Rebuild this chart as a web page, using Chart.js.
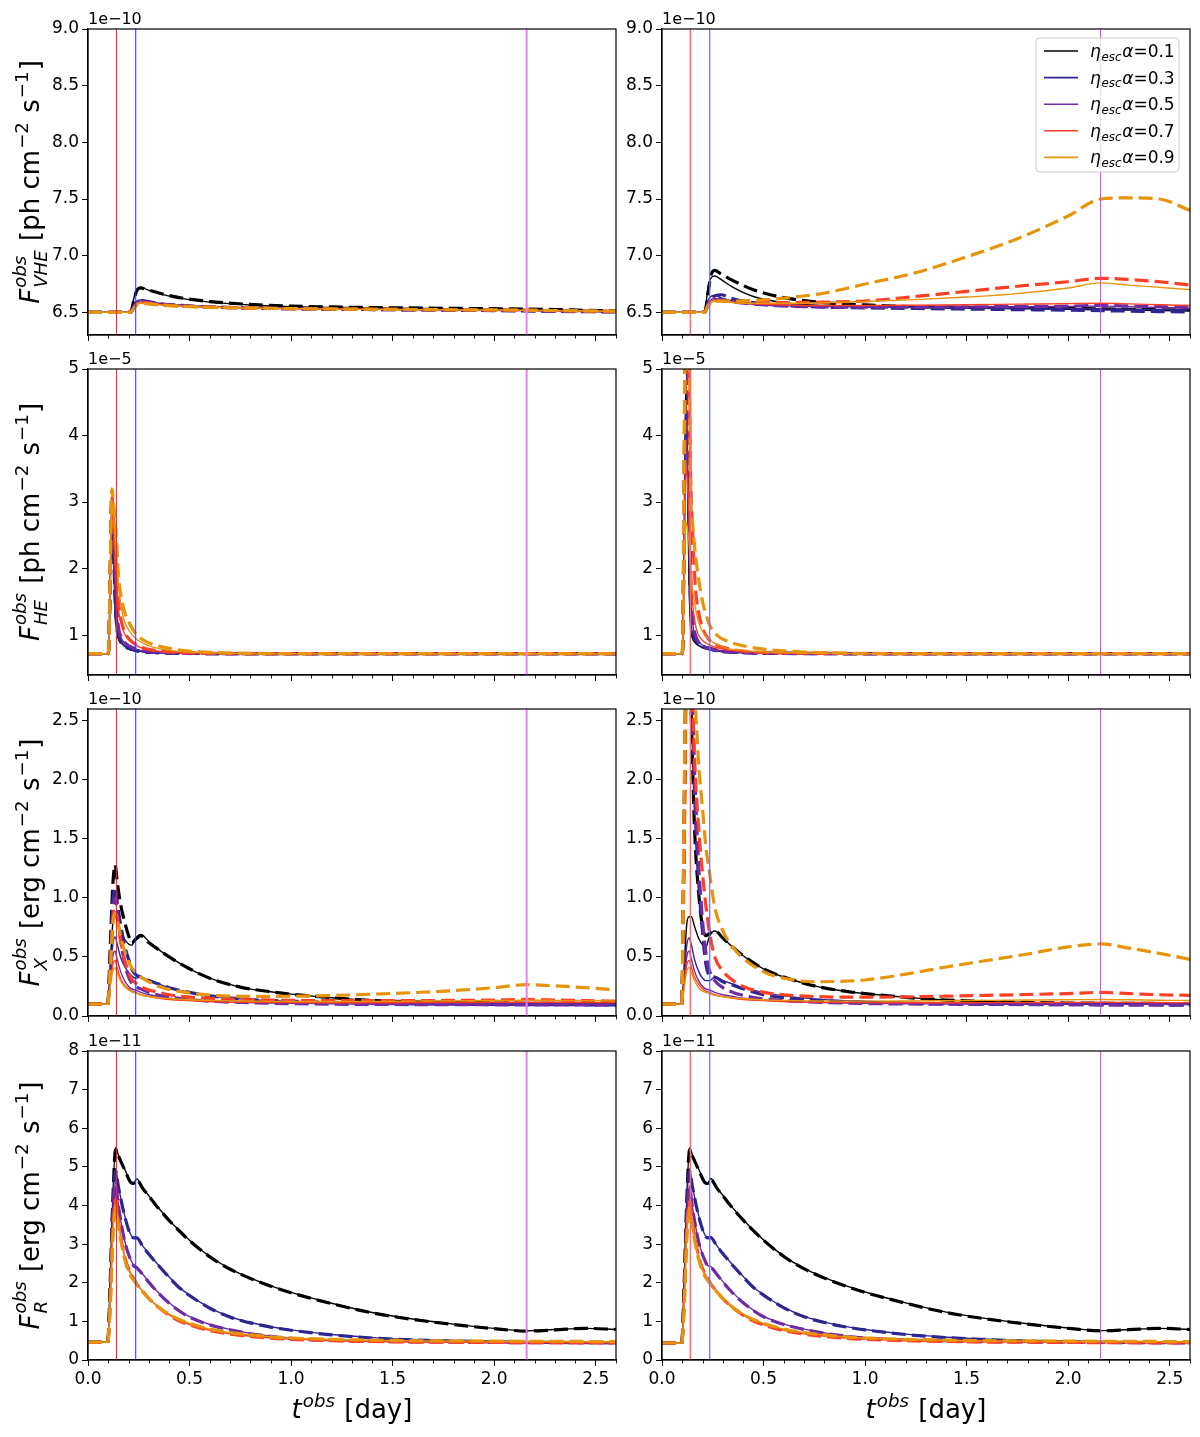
<!DOCTYPE html>
<html>
<head>
<meta charset="utf-8">
<script src="https://cdn.jsdelivr.net/npm/chart.js@4.4.1/dist/chart.umd.min.js"></script>
<style>
  html, body { margin: 0; padding: 0; background: #fff; }
  #fig { position: relative; width: 1200px; height: 1437px; overflow: hidden; background: #fff; }
  .cell { position: absolute; }
</style>
</head>
<body>
<div id="fig"></div>
<script>
// ---------- values ----------
const ALPHA_LABELS = ['0.1', '0.3', '0.5', '0.7', '0.9'];
const SERIES_COLORS = ['#000000', '#2d2690', '#6f2ba4', '#ff4026', '#e6950a'];
const VLINE_X = [0.14, 0.235, 2.16];

const X_TICKS = [0, 0.5, 1.0, 1.5, 2.0, 2.5];
const X_LABELS = ['0.0', '0.5', '1.0', '1.5', '2.0', '2.5'];

const Y_TICKS_VHE = [6.5, 7.0, 7.5, 8.0, 8.5, 9.0];
const Y_LABELS_VHE = ['6.5', '7.0', '7.5', '8.0', '8.5', '9.0'];
const Y_TICKS_HE = [1, 2, 3, 4, 5];
const Y_LABELS_HE = ['1', '2', '3', '4', '5'];
const Y_TICKS_X = [0, 0.5, 1.0, 1.5, 2.0, 2.5];
const Y_LABELS_X = ['0.0', '0.5', '1.0', '1.5', '2.0', '2.5'];
const Y_TICKS_R = [0, 1, 2, 3, 4, 5, 6, 7, 8];
const Y_LABELS_R = ['0', '1', '2', '3', '4', '5', '6', '7', '8'];

// time grids [day]
const T_VHE = [0, 0.21, 0.225, 0.24, 0.26, 0.29, 0.35, 0.45, 0.6, 0.8, 1.0, 1.25, 1.5, 1.75, 2.0, 2.16, 2.3, 2.45, 2.6];
const T_HE = [0, 0.1, 0.108, 0.117, 0.125, 0.133, 0.141, 0.15, 0.165, 0.18, 0.2, 0.235, 0.27, 0.32, 0.4, 0.5, 0.7, 1.0, 1.5, 2.0, 2.6];
const T_X = [0, 0.097, 0.11, 0.122, 0.133, 0.145, 0.16, 0.18, 0.2, 0.215, 0.235, 0.26, 0.3, 0.35, 0.4, 0.5, 0.6, 0.75, 0.9, 1.0, 1.2, 1.4, 1.6, 1.8, 2.0, 2.16, 2.3, 2.45, 2.6];
const T_R = [0, 0.097, 0.11, 0.122, 0.136, 0.15, 0.18, 0.21, 0.225, 0.24, 0.27, 0.3, 0.34, 0.4, 0.45, 0.5, 0.6, 0.7, 0.8, 0.9, 1.0, 1.2, 1.4, 1.6, 1.8, 2.0, 2.16, 2.3, 2.45, 2.6];

// VHE flux, 1e-10 ph cm^-2 s^-1
const VHE_L_SOLID = [
  [6.5, 6.5, 6.62, 6.7, 6.72, 6.7, 6.665, 6.625, 6.59, 6.565, 6.55, 6.542, 6.536, 6.532, 6.528, 6.525, 6.52, 6.515, 6.508],
  [6.5, 6.5, 6.56, 6.6, 6.61, 6.6, 6.58, 6.565, 6.55, 6.54, 6.535, 6.53, 6.526, 6.522, 6.518, 6.515, 6.512, 6.508, 6.505],
  [6.5, 6.5, 6.55, 6.59, 6.6, 6.59, 6.575, 6.56, 6.548, 6.54, 6.534, 6.529, 6.525, 6.521, 6.518, 6.515, 6.512, 6.509, 6.506],
  [6.5, 6.5, 6.54, 6.58, 6.59, 6.585, 6.57, 6.557, 6.546, 6.538, 6.533, 6.528, 6.525, 6.522, 6.519, 6.517, 6.514, 6.511, 6.508],
  [6.5, 6.5, 6.53, 6.57, 6.58, 6.577, 6.566, 6.554, 6.545, 6.537, 6.532, 6.528, 6.525, 6.522, 6.52, 6.518, 6.515, 6.512, 6.509]
];
const VHE_L_DASH = [
  [6.5, 6.5, 6.6, 6.69, 6.715, 6.7, 6.67, 6.63, 6.595, 6.57, 6.555, 6.546, 6.54, 6.536, 6.532, 6.529, 6.525, 6.518, 6.512],
  [6.5, 6.5, 6.55, 6.595, 6.605, 6.597, 6.578, 6.562, 6.548, 6.538, 6.532, 6.527, 6.523, 6.519, 6.515, 6.512, 6.509, 6.506, 6.503],
  [6.5, 6.5, 6.545, 6.585, 6.597, 6.59, 6.574, 6.559, 6.547, 6.538, 6.532, 6.527, 6.523, 6.52, 6.517, 6.514, 6.511, 6.508, 6.505],
  [6.5, 6.5, 6.535, 6.575, 6.587, 6.583, 6.569, 6.556, 6.546, 6.538, 6.533, 6.529, 6.526, 6.523, 6.52, 6.518, 6.515, 6.512, 6.509],
  [6.5, 6.5, 6.53, 6.565, 6.578, 6.575, 6.565, 6.554, 6.545, 6.538, 6.533, 6.529, 6.526, 6.523, 6.521, 6.519, 6.516, 6.513, 6.51]
];
const VHE_R_SOLID = [
  [6.5, 6.5, 6.7, 6.8, 6.82, 6.79, 6.72, 6.64, 6.585, 6.56, 6.55, 6.545, 6.54, 6.537, 6.533, 6.53, 6.527, 6.523, 6.52],
  [6.5, 6.5, 6.6, 6.64, 6.65, 6.63, 6.6, 6.578, 6.563, 6.554, 6.549, 6.544, 6.54, 6.536, 6.532, 6.53, 6.527, 6.524, 6.521],
  [6.5, 6.5, 6.58, 6.61, 6.62, 6.61, 6.59, 6.571, 6.559, 6.551, 6.547, 6.546, 6.547, 6.549, 6.552, 6.555, 6.55, 6.543, 6.537],
  [6.5, 6.5, 6.57, 6.6, 6.61, 6.605, 6.59, 6.575, 6.565, 6.56, 6.56, 6.563, 6.567, 6.572, 6.577, 6.58, 6.575, 6.567, 6.56],
  [6.5, 6.5, 6.56, 6.585, 6.595, 6.595, 6.585, 6.58, 6.58, 6.585, 6.595, 6.612, 6.635, 6.665, 6.715, 6.76, 6.74, 6.72, 6.7]
];
const VHE_R_DASH = [
  [6.5, 6.5, 6.65, 6.82, 6.87, 6.84, 6.78, 6.7, 6.63, 6.585, 6.565, 6.55, 6.545, 6.54, 6.535, 6.53, 6.527, 6.523, 6.52],
  [6.5, 6.5, 6.57, 6.62, 6.645, 6.655, 6.62, 6.585, 6.56, 6.546, 6.54, 6.534, 6.529, 6.524, 6.519, 6.515, 6.511, 6.507, 6.503],
  [6.5, 6.5, 6.56, 6.6, 6.615, 6.612, 6.592, 6.572, 6.556, 6.548, 6.545, 6.545, 6.548, 6.551, 6.555, 6.56, 6.556, 6.55, 6.545],
  [6.5, 6.5, 6.55, 6.59, 6.6, 6.6, 6.592, 6.586, 6.585, 6.59, 6.6, 6.64, 6.685, 6.73, 6.77, 6.8, 6.79, 6.77, 6.74],
  [6.5, 6.5, 6.55, 6.585, 6.6, 6.6, 6.6, 6.605, 6.625, 6.67, 6.75, 6.85, 6.99, 7.15, 7.35, 7.5, 7.51, 7.5, 7.4]
];

// HE flux, 1e-5 ph cm^-2 s^-1
const HE_L_SOLID = [
  [0.72, 0.72, 1.5, 2.9, 2.2, 1.4, 1.05, 0.95, 0.88, 0.84, 0.8, 0.77, 0.75, 0.74, 0.73, 0.725, 0.72, 0.72, 0.72, 0.72, 0.72],
  [0.72, 0.72, 1.5, 2.95, 2.4, 1.6, 1.15, 0.98, 0.88, 0.83, 0.8, 0.77, 0.75, 0.74, 0.73, 0.725, 0.72, 0.72, 0.72, 0.72, 0.72],
  [0.72, 0.72, 1.5, 3.0, 2.6, 1.9, 1.4, 1.1, 0.95, 0.88, 0.83, 0.79, 0.76, 0.745, 0.735, 0.727, 0.722, 0.72, 0.72, 0.72, 0.72],
  [0.72, 0.72, 1.5, 3.0, 2.7, 2.3, 1.8, 1.4, 1.15, 1.02, 0.93, 0.85, 0.8, 0.77, 0.745, 0.732, 0.724, 0.72, 0.72, 0.72, 0.72],
  [0.72, 0.72, 1.4, 2.9, 2.8, 2.5, 2.1, 1.75, 1.4, 1.2, 1.08, 0.95, 0.88, 0.82, 0.77, 0.745, 0.728, 0.722, 0.72, 0.72, 0.72]
];
const HE_L_DASH = [
  [0.72, 0.72, 1.6, 3.0, 2.4, 1.6, 1.15, 0.98, 0.88, 0.84, 0.8, 0.77, 0.75, 0.74, 0.73, 0.725, 0.72, 0.72, 0.72, 0.72, 0.72],
  [0.72, 0.72, 1.6, 3.0, 2.5, 1.7, 1.2, 1.0, 0.89, 0.84, 0.8, 0.77, 0.75, 0.74, 0.73, 0.725, 0.72, 0.72, 0.72, 0.72, 0.72],
  [0.72, 0.72, 1.6, 3.05, 2.7, 2.0, 1.45, 1.12, 0.96, 0.89, 0.84, 0.795, 0.765, 0.745, 0.735, 0.727, 0.722, 0.72, 0.72, 0.72, 0.72],
  [0.72, 0.72, 1.6, 3.1, 2.8, 2.4, 1.9, 1.5, 1.2, 1.05, 0.95, 0.86, 0.81, 0.775, 0.748, 0.733, 0.724, 0.72, 0.72, 0.72, 0.72],
  [0.72, 0.72, 1.7, 3.2, 3.0, 2.7, 2.4, 1.9, 1.55, 1.35, 1.2, 1.02, 0.93, 0.86, 0.8, 0.76, 0.73, 0.722, 0.72, 0.72, 0.72]
];
const HE_R_SOLID = [
  [0.72, 0.72, 2.0, 4.8, 3.5, 1.8, 1.1, 0.95, 0.88, 0.84, 0.81, 0.78, 0.76, 0.745, 0.735, 0.727, 0.722, 0.72, 0.72, 0.72, 0.72],
  [0.72, 0.72, 1.9, 4.5, 3.8, 2.2, 1.3, 1.02, 0.9, 0.85, 0.82, 0.785, 0.765, 0.748, 0.736, 0.728, 0.722, 0.72, 0.72, 0.72, 0.72],
  [0.72, 0.72, 1.8, 4.0, 3.6, 2.6, 1.6, 1.2, 0.98, 0.9, 0.85, 0.8, 0.775, 0.755, 0.74, 0.73, 0.723, 0.72, 0.72, 0.72, 0.72],
  [0.72, 0.72, 1.7, 3.5, 3.3, 2.8, 2.0, 1.5, 1.15, 1.0, 0.92, 0.85, 0.81, 0.78, 0.755, 0.738, 0.726, 0.721, 0.72, 0.72, 0.72],
  [0.72, 0.72, 1.5, 2.7, 2.6, 2.4, 2.0, 1.7, 1.4, 1.2, 1.05, 0.93, 0.86, 0.8, 0.77, 0.745, 0.73, 0.722, 0.72, 0.72, 0.72]
];
const HE_R_DASH = [
  [0.72, 0.72, 2.5, 6.0, 5.0, 3.0, 1.5, 1.1, 0.93, 0.87, 0.83, 0.8, 0.77, 0.75, 0.74, 0.73, 0.725, 0.722, 0.72, 0.72, 0.72],
  [0.72, 0.72, 2.5, 6.0, 5.2, 3.3, 1.7, 1.2, 0.96, 0.88, 0.83, 0.79, 0.765, 0.748, 0.736, 0.728, 0.722, 0.72, 0.72, 0.72, 0.72],
  [0.72, 0.72, 2.4, 6.0, 5.5, 3.8, 2.0, 1.3, 1.0, 0.9, 0.84, 0.795, 0.77, 0.75, 0.738, 0.73, 0.723, 0.72, 0.72, 0.72, 0.72],
  [0.72, 0.72, 2.0, 5.5, 6.0, 5.0, 3.4, 2.6, 1.7, 1.35, 1.1, 0.92, 0.85, 0.8, 0.76, 0.74, 0.728, 0.722, 0.72, 0.72, 0.72],
  [0.72, 0.72, 3.5, 6.5, 7.0, 6.0, 3.2, 2.7, 2.2, 1.85, 1.5, 1.15, 1.0, 0.91, 0.84, 0.79, 0.745, 0.725, 0.72, 0.72, 0.72]
];

// X-ray flux, 1e-10 erg cm^-2 s^-1
const X_L_SOLID = [
  [0.1, 0.1, 0.45, 0.78, 0.85, 0.8, 0.72, 0.65, 0.61, 0.6, 0.66, 0.69, 0.63, 0.56, 0.5, 0.4, 0.32, 0.245, 0.205, 0.185, 0.155, 0.132, 0.12, 0.113, 0.11, 0.108, 0.107, 0.106, 0.105],
  [0.1, 0.1, 0.35, 0.6, 0.67, 0.6, 0.5, 0.42, 0.37, 0.34, 0.32, 0.33, 0.3, 0.27, 0.24, 0.2, 0.17, 0.145, 0.13, 0.125, 0.115, 0.11, 0.105, 0.102, 0.1, 0.1, 0.1, 0.1, 0.1],
  [0.1, 0.1, 0.3, 0.5, 0.55, 0.47, 0.38, 0.3, 0.25, 0.23, 0.22, 0.2, 0.18, 0.165, 0.15, 0.135, 0.125, 0.115, 0.11, 0.107, 0.104, 0.102, 0.1, 0.1, 0.1, 0.1, 0.1, 0.1, 0.1],
  [0.1, 0.1, 0.27, 0.43, 0.47, 0.4, 0.32, 0.26, 0.23, 0.215, 0.2, 0.18, 0.165, 0.15, 0.14, 0.13, 0.122, 0.117, 0.114, 0.113, 0.112, 0.112, 0.113, 0.114, 0.115, 0.116, 0.115, 0.114, 0.113],
  [0.1, 0.1, 0.25, 0.38, 0.41, 0.36, 0.3, 0.25, 0.22, 0.205, 0.195, 0.18, 0.165, 0.155, 0.148, 0.138, 0.132, 0.127, 0.124, 0.123, 0.123, 0.124, 0.126, 0.128, 0.131, 0.134, 0.132, 0.13, 0.128]
];
const X_L_DASH = [
  [0.1, 0.1, 0.6, 1.1, 1.28, 1.12, 0.95, 0.8, 0.68, 0.62, 0.65, 0.68, 0.62, 0.56, 0.5, 0.4, 0.32, 0.245, 0.205, 0.185, 0.155, 0.132, 0.12, 0.113, 0.11, 0.108, 0.107, 0.106, 0.105],
  [0.1, 0.1, 0.5, 0.95, 1.09, 0.95, 0.78, 0.6, 0.48, 0.4, 0.35, 0.33, 0.3, 0.27, 0.24, 0.2, 0.17, 0.145, 0.13, 0.125, 0.115, 0.108, 0.103, 0.1, 0.098, 0.097, 0.096, 0.095, 0.094],
  [0.1, 0.1, 0.45, 0.88, 1.0, 0.85, 0.65, 0.45, 0.33, 0.28, 0.25, 0.23, 0.2, 0.175, 0.16, 0.14, 0.125, 0.115, 0.108, 0.105, 0.1, 0.098, 0.097, 0.096, 0.095, 0.095, 0.094, 0.093, 0.092],
  [0.1, 0.1, 0.4, 0.8, 0.9, 0.82, 0.65, 0.48, 0.37, 0.31, 0.28, 0.25, 0.22, 0.2, 0.18, 0.16, 0.15, 0.14, 0.135, 0.132, 0.13, 0.13, 0.13, 0.132, 0.135, 0.14, 0.135, 0.13, 0.125],
  [0.1, 0.1, 0.4, 0.78, 0.87, 0.8, 0.68, 0.55, 0.46, 0.41, 0.37, 0.33, 0.29, 0.25, 0.225, 0.195, 0.178, 0.167, 0.166, 0.168, 0.173, 0.185, 0.198, 0.215, 0.24, 0.265, 0.255, 0.24, 0.222]
];
const X_R_SOLID = [
  [0.1, 0.1, 0.45, 0.78, 0.84, 0.84, 0.76, 0.66, 0.6, 0.58, 0.68, 0.72, 0.66, 0.58, 0.51, 0.4, 0.33, 0.255, 0.21, 0.19, 0.158, 0.135, 0.122, 0.115, 0.11, 0.108, 0.107, 0.106, 0.105],
  [0.1, 0.1, 0.35, 0.6, 0.66, 0.6, 0.48, 0.38, 0.32, 0.3, 0.3, 0.33, 0.3, 0.27, 0.24, 0.2, 0.17, 0.145, 0.13, 0.125, 0.115, 0.11, 0.105, 0.102, 0.1, 0.1, 0.1, 0.1, 0.1],
  [0.1, 0.1, 0.3, 0.5, 0.55, 0.48, 0.38, 0.3, 0.25, 0.23, 0.22, 0.2, 0.18, 0.165, 0.15, 0.135, 0.125, 0.115, 0.11, 0.107, 0.104, 0.102, 0.1, 0.1, 0.1, 0.1, 0.1, 0.1, 0.1],
  [0.1, 0.1, 0.27, 0.43, 0.47, 0.41, 0.33, 0.27, 0.23, 0.21, 0.2, 0.18, 0.165, 0.15, 0.14, 0.13, 0.122, 0.117, 0.114, 0.113, 0.112, 0.112, 0.113, 0.114, 0.115, 0.116, 0.115, 0.114, 0.113],
  [0.1, 0.1, 0.25, 0.38, 0.41, 0.37, 0.3, 0.24, 0.21, 0.2, 0.19, 0.175, 0.165, 0.155, 0.148, 0.138, 0.132, 0.128, 0.126, 0.126, 0.127, 0.129, 0.132, 0.135, 0.138, 0.14, 0.137, 0.134, 0.131]
];
const X_R_DASH = [
  [0.1, 0.1, 1.8, 3.2, 3.2, 2.5, 1.6, 1.05, 0.75, 0.68, 0.7, 0.72, 0.66, 0.58, 0.51, 0.4, 0.33, 0.255, 0.21, 0.19, 0.158, 0.135, 0.122, 0.115, 0.11, 0.108, 0.107, 0.106, 0.105],
  [0.1, 0.1, 1.8, 3.3, 3.5, 2.8, 1.9, 1.15, 0.7, 0.45, 0.34, 0.33, 0.29, 0.26, 0.23, 0.18, 0.155, 0.135, 0.12, 0.115, 0.108, 0.103, 0.1, 0.098, 0.096, 0.095, 0.094, 0.093, 0.092],
  [0.1, 0.1, 1.7, 3.3, 3.5, 3.0, 2.1, 1.3, 0.8, 0.55, 0.38, 0.3, 0.24, 0.2, 0.175, 0.145, 0.13, 0.118, 0.11, 0.106, 0.102, 0.1, 0.098, 0.097, 0.096, 0.095, 0.094, 0.094, 0.093],
  [0.1, 0.1, 1.5, 3.2, 3.6, 3.0, 2.2, 1.6, 1.2, 0.95, 0.7, 0.5, 0.38, 0.3, 0.25, 0.2, 0.18, 0.165, 0.16, 0.16, 0.162, 0.168, 0.175, 0.182, 0.19, 0.2, 0.19, 0.18, 0.175],
  [0.1, 0.1, 2.0, 3.5, 3.8, 3.4, 2.8, 2.15, 1.75, 1.45, 1.2, 0.92, 0.72, 0.58, 0.49, 0.375, 0.32, 0.29, 0.295, 0.305, 0.355, 0.415, 0.47, 0.525, 0.585, 0.61, 0.575, 0.53, 0.48]
];

// radio flux, 1e-11 erg cm^-2 s^-1
const R_L_SOLID = [
  [0.46, 0.46, 2.2, 4.2, 5.5, 5.3, 4.95, 4.62, 4.58, 4.69, 4.45, 4.25, 3.98, 3.62, 3.35, 3.1, 2.68, 2.36, 2.12, 1.92, 1.75, 1.47, 1.23, 1.06, 0.93, 0.82, 0.755, 0.79, 0.82, 0.79],
  [0.46, 0.46, 2.0, 4.0, 4.95, 4.5, 3.75, 3.25, 3.17, 3.17, 2.95, 2.75, 2.5, 2.15, 1.88, 1.68, 1.35, 1.12, 0.97, 0.86, 0.78, 0.66, 0.58, 0.53, 0.5, 0.48, 0.47, 0.46, 0.455, 0.45],
  [0.46, 0.46, 1.8, 3.7, 4.6, 4.0, 3.1, 2.6, 2.45, 2.4, 2.22, 2.02, 1.78, 1.48, 1.28, 1.12, 0.92, 0.79, 0.69, 0.62, 0.57, 0.52, 0.49, 0.475, 0.465, 0.46, 0.455, 0.455, 0.45, 0.45],
  [0.46, 0.46, 1.6, 3.4, 4.2, 3.6, 2.7, 2.25, 2.12, 1.98, 1.78, 1.6, 1.4, 1.17, 1.02, 0.92, 0.77, 0.68, 0.62, 0.57, 0.54, 0.5, 0.48, 0.465, 0.46, 0.455, 0.45, 0.45, 0.445, 0.445],
  [0.46, 0.46, 1.5, 3.2, 4.0, 3.5, 2.65, 2.2, 2.08, 1.96, 1.77, 1.6, 1.41, 1.19, 1.05, 0.95, 0.8, 0.71, 0.65, 0.6, 0.57, 0.53, 0.51, 0.495, 0.49, 0.485, 0.48, 0.48, 0.475, 0.47]
];
const R_L_DASH = [
  [0.46, 0.46, 2.1, 4.1, 5.45, 5.28, 4.93, 4.6, 4.57, 4.67, 4.44, 4.24, 3.97, 3.61, 3.34, 3.09, 2.67, 2.35, 2.11, 1.91, 1.74, 1.46, 1.22, 1.05, 0.92, 0.81, 0.75, 0.78, 0.82, 0.79],
  [0.46, 0.46, 1.9, 3.9, 4.9, 4.48, 3.74, 3.24, 3.16, 3.16, 2.94, 2.74, 2.49, 2.14, 1.87, 1.67, 1.34, 1.11, 0.96, 0.85, 0.77, 0.65, 0.57, 0.52, 0.49, 0.47, 0.46, 0.455, 0.45, 0.445],
  [0.46, 0.46, 1.75, 3.6, 4.55, 3.98, 3.09, 2.59, 2.44, 2.39, 2.21, 2.01, 1.77, 1.47, 1.27, 1.11, 0.91, 0.78, 0.68, 0.61, 0.56, 0.51, 0.485, 0.47, 0.46, 0.455, 0.45, 0.45, 0.448, 0.448],
  [0.46, 0.46, 1.55, 3.3, 4.15, 3.58, 2.69, 2.24, 2.11, 1.97, 1.77, 1.59, 1.39, 1.16, 1.01, 0.91, 0.76, 0.67, 0.61, 0.565, 0.535, 0.5, 0.48, 0.465, 0.46, 0.455, 0.45, 0.45, 0.445, 0.445],
  [0.46, 0.46, 1.45, 3.1, 3.9, 3.45, 2.62, 2.18, 2.06, 1.95, 1.76, 1.59, 1.4, 1.18, 1.05, 0.95, 0.8, 0.71, 0.65, 0.6, 0.57, 0.535, 0.515, 0.5, 0.495, 0.49, 0.485, 0.485, 0.48, 0.475]
];
const R_R_SOLID = [
  [0.44, 0.44, 2.2, 4.2, 5.5, 5.3, 4.95, 4.62, 4.58, 4.7, 4.46, 4.26, 3.99, 3.63, 3.36, 3.11, 2.69, 2.37, 2.13, 1.93, 1.76, 1.48, 1.24, 1.07, 0.94, 0.83, 0.76, 0.79, 0.82, 0.79],
  [0.44, 0.44, 2.0, 4.0, 4.95, 4.5, 3.75, 3.25, 3.17, 3.18, 2.96, 2.76, 2.51, 2.16, 1.89, 1.69, 1.36, 1.13, 0.98, 0.87, 0.79, 0.67, 0.59, 0.54, 0.5, 0.48, 0.47, 0.46, 0.455, 0.45],
  [0.44, 0.44, 1.8, 3.7, 4.5, 3.95, 3.08, 2.6, 2.45, 2.42, 2.23, 2.03, 1.79, 1.49, 1.29, 1.13, 0.93, 0.8, 0.7, 0.63, 0.58, 0.53, 0.5, 0.48, 0.47, 0.465, 0.46, 0.455, 0.45, 0.45],
  [0.44, 0.44, 1.6, 3.4, 4.15, 3.58, 2.7, 2.25, 2.12, 1.98, 1.78, 1.6, 1.4, 1.17, 1.02, 0.92, 0.77, 0.68, 0.62, 0.57, 0.54, 0.5, 0.48, 0.465, 0.46, 0.455, 0.45, 0.45, 0.445, 0.445],
  [0.44, 0.44, 1.5, 3.2, 3.95, 3.48, 2.64, 2.2, 2.08, 1.96, 1.77, 1.6, 1.41, 1.19, 1.05, 0.95, 0.8, 0.71, 0.65, 0.6, 0.57, 0.53, 0.51, 0.495, 0.49, 0.485, 0.48, 0.48, 0.475, 0.47]
];
const R_R_DASH = [
  [0.44, 0.44, 2.1, 4.1, 5.45, 5.28, 4.93, 4.6, 4.57, 4.68, 4.45, 4.25, 3.98, 3.62, 3.35, 3.1, 2.68, 2.36, 2.12, 1.92, 1.75, 1.47, 1.23, 1.06, 0.93, 0.82, 0.755, 0.785, 0.82, 0.79],
  [0.44, 0.44, 1.9, 3.9, 4.9, 4.48, 3.74, 3.24, 3.16, 3.17, 2.95, 2.75, 2.5, 2.15, 1.88, 1.68, 1.35, 1.12, 0.97, 0.86, 0.78, 0.66, 0.58, 0.53, 0.49, 0.47, 0.46, 0.455, 0.45, 0.445],
  [0.44, 0.44, 1.75, 3.6, 4.45, 3.93, 3.07, 2.59, 2.44, 2.41, 2.22, 2.02, 1.78, 1.48, 1.28, 1.12, 0.92, 0.79, 0.69, 0.62, 0.57, 0.52, 0.49, 0.475, 0.465, 0.46, 0.455, 0.45, 0.448, 0.448],
  [0.44, 0.44, 1.55, 3.3, 4.1, 3.56, 2.69, 2.24, 2.11, 1.97, 1.77, 1.59, 1.39, 1.16, 1.01, 0.91, 0.76, 0.67, 0.61, 0.565, 0.535, 0.5, 0.48, 0.465, 0.46, 0.455, 0.45, 0.45, 0.445, 0.445],
  [0.44, 0.44, 1.45, 3.1, 3.9, 3.43, 2.62, 2.18, 2.06, 1.95, 1.76, 1.59, 1.4, 1.18, 1.05, 0.95, 0.8, 0.71, 0.65, 0.6, 0.57, 0.535, 0.515, 0.5, 0.495, 0.49, 0.485, 0.485, 0.48, 0.475]
];

// ---------- layout and style ----------
const FONT = '"DejaVu Sans", "Liberation Sans", sans-serif';
const ROWS = [
  { top: 29, bottom: 335, min: 6.3, max: 9.0, ticks: Y_TICKS_VHE, labels: Y_LABELS_VHE, exp: '1e\u221210', band: 'VHE', unit: 'ph' },
  { top: 369, bottom: 675, min: 0.4, max: 5.0, ticks: Y_TICKS_HE, labels: Y_LABELS_HE, exp: '1e\u22125', band: 'HE', unit: 'ph' },
  { top: 709, bottom: 1016, min: 0.0, max: 2.6, ticks: Y_TICKS_X, labels: Y_LABELS_X, exp: '1e\u221210', band: 'X', unit: 'erg' },
  { top: 1051, bottom: 1360, min: 0.0, max: 8.0, ticks: Y_TICKS_R, labels: Y_LABELS_R, exp: '1e\u221211', band: 'R', unit: 'erg' }
];
const COLS = [
  { x0: 0, x1: 640, left: 88, right: 616, vcol: ['#ff1a1a', '#2b2bff', '#f07cf0'], vw: [1, 1, 2] },
  { x0: 600, x1: 1200, left: 662, right: 1190, vcol: ['#ff6a6a', '#6a6aff', '#d735e3'], vw: [1.5, 1.2, 1] }
];
const PANELS = [
  { row: 0, col: 0, t: T_VHE, solid: VHE_L_SOLID, dash: VHE_L_DASH },
  { row: 0, col: 1, t: T_VHE, solid: VHE_R_SOLID, dash: VHE_R_DASH },
  { row: 1, col: 0, t: T_HE, solid: HE_L_SOLID, dash: HE_L_DASH },
  { row: 1, col: 1, t: T_HE, solid: HE_R_SOLID, dash: HE_R_DASH },
  { row: 2, col: 0, t: T_X, solid: X_L_SOLID, dash: X_L_DASH },
  { row: 2, col: 1, t: T_X, solid: X_R_SOLID, dash: X_R_DASH },
  { row: 3, col: 0, t: T_R, solid: R_L_SOLID, dash: R_L_DASH },
  { row: 3, col: 1, t: T_R, solid: R_R_SOLID, dash: R_R_DASH }
];
const YW = 50;

function font(size, italic) {
  return (italic ? 'italic ' : '') + size + 'px ' + FONT;
}

// tiny mathtext: runs are {t, it} or {sup, sub, it}
function drawMath(ctx, runs, x, y, size, align) {
  const small = size * 0.7;
  const widths = runs.map(r => {
    if (r.t !== undefined) { ctx.font = font(size, r.it); return ctx.measureText(r.t).width; }
    ctx.font = font(small, r.it);
    const a = r.sup ? ctx.measureText(r.sup).width : 0;
    const b = r.sub ? ctx.measureText(r.sub).width : 0;
    return Math.max(a, b) + size * 0.08;
  });
  const total = widths.reduce((s, w) => s + w, 0);
  let cx = align === 'center' ? x - total / 2 : x;
  ctx.textAlign = 'left';
  ctx.textBaseline = 'alphabetic';
  runs.forEach((r, i) => {
    if (r.t !== undefined) {
      ctx.font = font(size, r.it);
      ctx.fillText(r.t, cx, y);
    } else {
      ctx.font = font(small, r.it);
      const both = r.sup && r.sub;
      if (r.sup) ctx.fillText(r.sup, cx + size * 0.04, y - size * (both ? 0.5 : 0.42));
      if (r.sub) ctx.fillText(r.sub, cx + size * 0.04, y + size * (both ? 0.3 : 0.22));
    }
    cx += widths[i];
  });
  return total;
}

const decor = {
  id: 'decor',
  afterDraw(chart, args, o) {
    const { ctx, chartArea: a } = chart;
    const xs = chart.scales.x;
    const row = ROWS[o.row];
    ctx.save();
    ctx.fillStyle = '#000';
    ctx.strokeStyle = '#000';

    // minor x ticks every 0.1 day
    ctx.lineWidth = 0.9;
    for (let k = 1; k <= 26; k++) {
      if (k % 5 === 0) continue;
      const px = Math.round(xs.getPixelForValue(k / 10)) + 0.5;
      ctx.beginPath();
      ctx.moveTo(px, a.bottom);
      ctx.lineTo(px, a.bottom + 3.5);
      ctx.stroke();
    }

    // axes frame
    ctx.lineWidth = 1.2;
    ctx.strokeRect(a.left, a.top, a.right - a.left, a.bottom - a.top);

    // offset text
    ctx.font = font(16);
    ctx.textAlign = 'left';
    ctx.textBaseline = 'alphabetic';
    ctx.fillText(row.exp, a.left, a.top - 5);

    // y title (left column only)
    if (o.col === 0) {
      ctx.save();
      ctx.translate(39, (a.top + a.bottom) / 2);
      ctx.rotate(-Math.PI / 2);
      drawMath(ctx, [
        { t: 'F', it: true },
        { sup: 'obs', sub: row.band, it: true },
        { t: ' [' + row.unit + ' cm' },
        { sup: '\u22122' },
        { t: ' s' },
        { sup: '\u22121' },
        { t: ']' }
      ], 0, 0, 26, 'center');
      ctx.restore();
    }

    // x title (bottom row only)
    if (o.row === 3) {
      drawMath(ctx, [
        { t: 't', it: true },
        { sup: 'obs', it: true },
        { t: ' [day]' }
      ], (a.left + a.right) / 2, a.bottom + 58, 26, 'center');
    }

    // legend (top-right panel)
    if (o.legend) {
      const w = 143, h = 134;
      const lx = a.right - 11 - w, ly = a.top + 9, r = 4;
      ctx.beginPath();
      ctx.moveTo(lx + r, ly);
      ctx.lineTo(lx + w - r, ly);
      ctx.arcTo(lx + w, ly, lx + w, ly + r, r);
      ctx.lineTo(lx + w, ly + h - r);
      ctx.arcTo(lx + w, ly + h, lx + w - r, ly + h, r);
      ctx.lineTo(lx + r, ly + h);
      ctx.arcTo(lx, ly + h, lx, ly + h - r, r);
      ctx.lineTo(lx, ly + r);
      ctx.arcTo(lx, ly, lx + r, ly, r);
      ctx.closePath();
      ctx.fillStyle = 'rgba(255,255,255,0.8)';
      ctx.fill();
      ctx.strokeStyle = '#cccccc';
      ctx.lineWidth = 1;
      ctx.stroke();
      ALPHA_LABELS.forEach((lab, i) => {
        const yy = ly + 13 + i * 26.6;
        ctx.strokeStyle = SERIES_COLORS[i];
        ctx.lineWidth = 1.6;
        ctx.beginPath();
        ctx.moveTo(lx + 8, yy);
        ctx.lineTo(lx + 42, yy);
        ctx.stroke();
        ctx.fillStyle = '#000';
        drawMath(ctx, [
          { t: '\u03b7', it: true },
          { sub: 'esc', it: true },
          { t: '\u03b1', it: true },
          { t: '=' + lab }
        ], lx + 54, yy + 6, 17, 'left');
      });
    }
    ctx.restore();
  }
};

function makePanel(p) {
  const row = ROWS[p.row], col = COLS[p.col];
  const boxTop = row.top - 29;
  const boxBottom = p.row === 3 ? 1437 : row.bottom + 25;
  const xh = boxBottom - row.bottom;

  const cell = document.createElement('div');
  cell.className = 'cell';
  cell.style.left = col.x0 + 'px';
  cell.style.top = boxTop + 'px';
  cell.style.width = (col.x1 - col.x0) + 'px';
  cell.style.height = (boxBottom - boxTop) + 'px';
  const canvas = document.createElement('canvas');
  cell.appendChild(canvas);
  document.getElementById('fig').appendChild(cell);

  const datasets = [];
  for (let i = 0; i < 5; i++) {
    datasets.push({
      data: p.t.map((x, k) => ({ x, y: p.solid[i][k] })),
      borderColor: SERIES_COLORS[i], borderWidth: 1.4, order: 100 - 2 * i
    });
    datasets.push({
      data: p.t.map((x, k) => ({ x, y: p.dash[i][k] })),
      borderColor: SERIES_COLORS[i], borderWidth: 3.2, borderDash: [14, 6], order: 99 - 2 * i
    });
  }
  VLINE_X.forEach((vx, j) => {
    datasets.push({
      data: [{ x: vx, y: row.min }, { x: vx, y: row.max }],
      borderColor: col.vcol[j], borderWidth: col.vw[j], order: -1, cubicInterpolationMode: 'default', tension: 0
    });
  });

  new Chart(canvas, {
    type: 'line',
    data: { datasets },
    plugins: [decor],
    options: {
      responsive: true,
      maintainAspectRatio: false,
      animation: false,
      events: [],
      layout: { padding: { top: 29, left: col.left - col.x0 - YW, right: col.x1 - col.right, bottom: 0 } },
      elements: {
        point: { radius: 0 },
        line: { cubicInterpolationMode: 'monotone', fill: false, borderCapStyle: 'butt' }
      },
      datasets: { line: { clip: 0, spanGaps: true } },
      plugins: {
        legend: { display: false },
        tooltip: { enabled: false },
        decor: { row: p.row, col: p.col, legend: p.row === 0 && p.col === 1 }
      },
      scales: {
        x: {
          type: 'linear', min: 0, max: 2.6,
          afterBuildTicks: s => { s.ticks = X_TICKS.map(v => ({ value: v })); },
          afterFit: s => { s.height = xh; },
          ticks: {
            display: p.row === 3, color: '#000', font: { family: FONT, size: 17 },
            padding: 3, maxRotation: 0, autoSkip: false,
            callback: (v, i) => X_LABELS[i]
          },
          grid: { display: true, drawOnChartArea: false, drawTicks: true, tickLength: 6, color: '#000', lineWidth: 1 },
          border: { display: true, color: '#000', width: 1.2 }
        },
        y: {
          type: 'linear', min: row.min, max: row.max,
          afterBuildTicks: s => { s.ticks = row.ticks.map(v => ({ value: v })); },
          afterFit: s => { s.width = YW; },
          ticks: {
            color: '#000', font: { family: FONT, size: 17 }, padding: 3, autoSkip: false,
            callback: (v, i) => row.labels[i]
          },
          grid: { display: true, drawOnChartArea: false, drawTicks: true, tickLength: 6, color: '#000', lineWidth: 1 },
          border: { display: true, color: '#000', width: 1.2 }
        }
      }
    }
  });
}

PANELS.forEach(makePanel);
</script>
</body>
</html>
